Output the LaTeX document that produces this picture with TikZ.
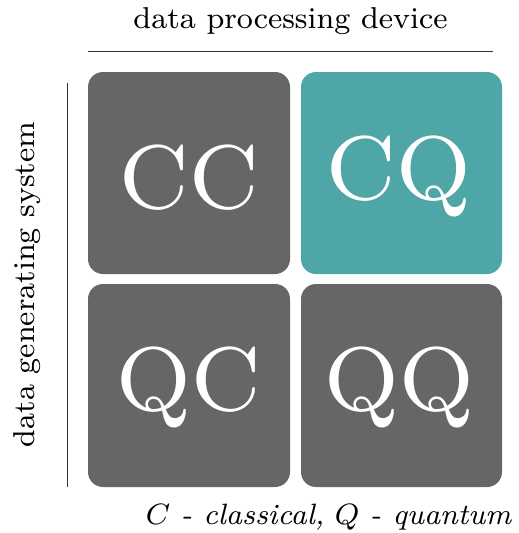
\documentclass[tikz,border=0pt]{standalone}
\usepackage{graphicx}
\definecolor{boxgray}{RGB}{102,102,102}
\definecolor{boxteal}{RGB}{79,166,166}
\definecolor{rulecol}{RGB}{50,50,50}
\newcommand{\lblfont}{\fontsize{8}{9}\selectfont}
\newcommand{\bigfont}{\fontsize{8}{9}\selectfont}
\begin{document}
\begin{tikzpicture}[x=1pt,y=-1pt,
  cell/.style={rounded corners=15pt, minimum width=202pt, minimum height=202pt, inner sep=0pt, draw=none},
  bigtxt/.style={inner sep=0pt, anchor=base, text=white},
  lbl/.style={inner sep=0pt, anchor=base},
  rulestyle/.style={line width=1.2pt, draw=rulecol}]
\useasboundingbox (0,0) rectangle (519,533);
\node[cell, fill=boxgray] (cc) at (189,173) {};
\node[cell, fill=boxteal, minimum width=201pt] (cq) at (401.5,173) {};
\node[cell, fill=boxgray, minimum height=203pt] (qc) at (189,385.5) {};
\node[cell, fill=boxgray, minimum width=201pt, minimum height=203pt] (qq) at (401.5,385.5) {};
\node[bigtxt] (cctxt) at (189,208) {\scalebox{11.3}{\bigfont CC}};
\node[bigtxt] (cqtxt) at (399,199) {\scalebox{11.3}{\bigfont CQ}};
\node[bigtxt] (qctxt) at (189,410) {\scalebox{11.3}{\bigfont QC}};
\node[bigtxt] (qqtxt) at (399,410) {\scalebox{11.3}{\bigfont QQ}};
\node[lbl] (toplbl) at (290.5,28) {\resizebox{314pt}{!}{\lblfont data processing device}};
\node[lbl, rotate=90] (sidelbl) at (34,284.5) {\resizebox{325pt}{!}{\lblfont data generating system}};
\node[lbl] (legend) at (329,524) {\resizebox{366pt}{!}{\lblfont $C$ \textit{- classical,} $Q$ \textit{- quantum}}};
\draw[rulestyle] (88,51.5) -- (493,51.5);
\draw[rulestyle] (67.5,83) -- (67.5,487);
\end{tikzpicture}
\end{document}
